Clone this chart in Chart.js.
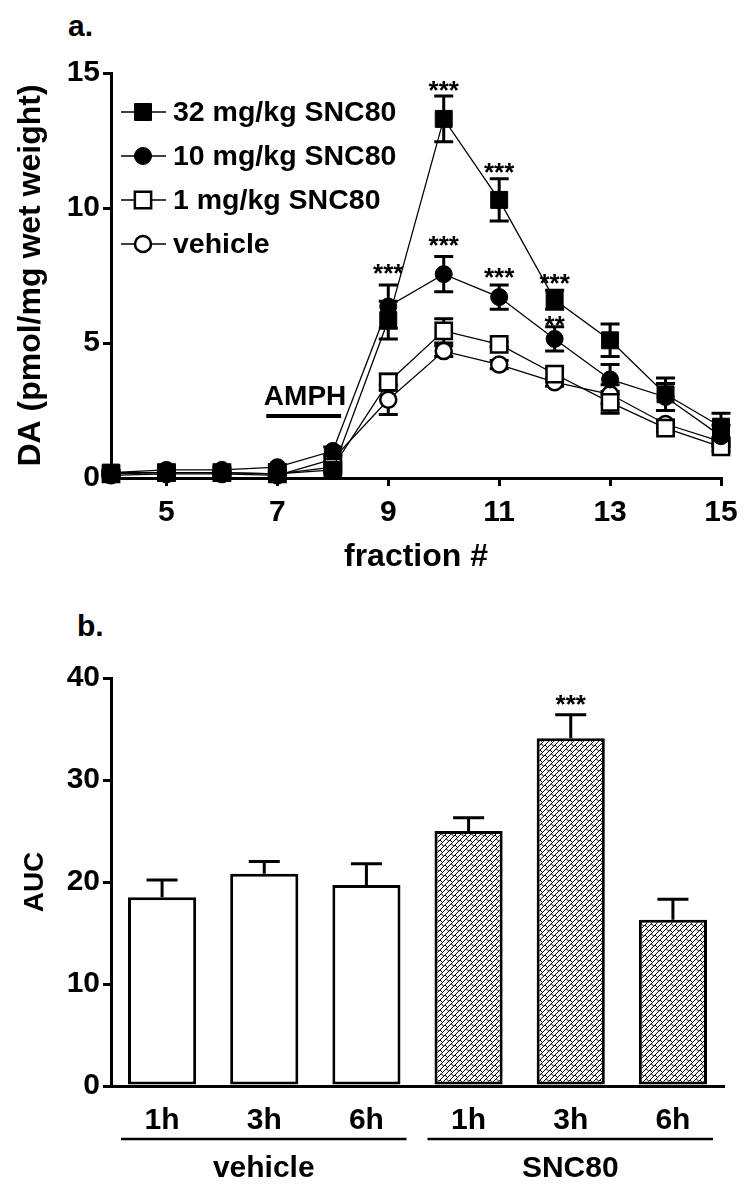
<!DOCTYPE html>
<html>
<head>
<meta charset="utf-8">
<script src="https://cdn.jsdelivr.net/npm/chart.js@4.4.0/dist/chart.umd.min.js"></script>
<style>
html, body { margin: 0; padding: 0; background: #fff; }
#wrap { position: relative; width: 750px; height: 1199px; font-family: "Liberation Sans", Arial, sans-serif; }
canvas { position: absolute; left: 0; }
#top { top: 0; }
#bottom { top: 590px; }
.panel { position: absolute; font-weight: bold; font-size: 30px; line-height: 30px; color: #000; }
</style>
</head>
<body>
<div id="wrap">
  <div class="panel" style="left:68px;top:11px;">a.</div>
  <div class="panel" style="left:77px;top:611px;">b.</div>
  <canvas id="top" width="750" height="590"></canvas>
  <canvas id="bottom" width="750" height="609"></canvas>
</div>
<script>
// panel a: DA per fraction
const fractions = [4, 5, 6, 7, 8, 9, 10, 11, 12, 13, 14, 15];
const dose32 = [0.2, 0.2, 0.2, 0.15, 0.3, 5.85, 13.3, 10.3, 6.6, 5.1, 3.1, 1.9];
const dose32Err = [0.1, 0.1, 0.1, 0.1, 0.1, 0.7, 0.85, 0.78, 0.35, 0.6, 0.6, 0.5];
const dose10 = [0.2, 0.3, 0.3, 0.4, 1.0, 6.35, 7.55, 6.7, 5.15, 3.65, 3.0, 1.55];
const dose10Err = [0.05, 0.1, 0.1, 0.1, 0.15, 0.8, 0.65, 0.45, 0.45, 0.55, 0.5, 0.4];
const dose1 = [0.15, 0.2, 0.2, 0.15, 0.4, 3.55, 5.45, 4.95, 3.85, 2.8, 1.85, 1.15];
const dose1Err = [0.05, 0.05, 0.05, 0.05, 0.1, 0.3, 0.45, 0.1, 0.2, 0.4, 0.15, 0.15];
const vehicle = [0.1, 0.15, 0.15, 0.1, 0.7, 2.9, 4.7, 4.2, 3.55, 3.1, 2.0, 1.35];
const vehicleErr = [0.05, 0.05, 0.05, 0.05, 0.1, 0.55, 0.2, 0.15, 0.15, 0.35, 0.15, 0.15];
const xTickValues = [5, 7, 9, 11, 13, 15];

const starX = [9, 10, 10, 11, 11, 12, 12];
const starY = [7.8, 14.6, 8.85, 11.55, 7.65, 7.45, 5.9];
const starText = ['***', '***', '***', '***', '***', '***', '**'];

// panel b: AUC
const timeLabels = ['1h', '3h', '6h', '1h', '3h', '6h'];
const auc = [18.5, 20.8, 19.7, 25.0, 34.1, 16.3];
const aucErr = [1.7, 1.2, 2.1, 1.3, 2.3, 2.0];
const groupNames = ['vehicle', 'SNC80'];
const groupStart = [0, 3];
const groupEnd = [2, 5];

const FONT = '"Liberation Sans", Arial, sans-serif';
Chart.defaults.font.family = FONT;
Chart.defaults.font.weight = 'bold';
Chart.defaults.color = '#000';

const toXY = (ys) => ys.map((y, i) => ({ x: fractions[i], y: y }));

function marker(ctx, style, r, x, y, bw) {
  if (Chart.helpers && Chart.helpers.drawPoint) {
    Chart.helpers.drawPoint(ctx, { pointStyle: style, radius: r, rotation: 0, borderWidth: bw }, x, y);
    return;
  }
  ctx.beginPath();
  if (style === 'rect') { const s = r * Math.SQRT1_2; ctx.rect(x - s, y - s, 2 * s, 2 * s); }
  else ctx.arc(x, y, r, 0, Math.PI * 2);
  ctx.fill(); if (bw) ctx.stroke();
}

const errBarsTop = {
  id: 'errBarsTop',
  beforeDatasetsDraw(chart) {
    const { ctx } = chart;
    const xs = chart.scales.x, ys = chart.scales.y;
    ctx.save();
    ctx.strokeStyle = '#000';
    ctx.lineWidth = 3;
    chart.data.datasets.forEach(ds => {
      ds.data.forEach((p, i) => {
        const e = ds.err[i];
        const x = xs.getPixelForValue(p.x);
        const y1 = ys.getPixelForValue(p.y + e);
        const y2 = ys.getPixelForValue(p.y - e);
        ctx.beginPath();
        ctx.moveTo(x, y1); ctx.lineTo(x, y2);
        ctx.moveTo(x - 9.5, y1); ctx.lineTo(x + 9.5, y1);
        ctx.moveTo(x - 9.5, y2); ctx.lineTo(x + 9.5, y2);
        ctx.stroke();
      });
    });
    ctx.restore();
  }
};

const notesTop = {
  id: 'notesTop',
  afterDatasetsDraw(chart) {
    const { ctx, chartArea } = chart;
    const xs = chart.scales.x, ys = chart.scales.y;
    ctx.save();
    // legend inside the plot
    const lx = chartArea.left + 10, ly = chartArea.top + 39, rowH = 44;
    chart.data.datasets.forEach((ds, i) => {
      const y = ly + i * rowH;
      ctx.strokeStyle = '#000';
      ctx.lineWidth = 1.3;
      ctx.beginPath(); ctx.moveTo(lx, y); ctx.lineTo(lx + 45, y); ctx.stroke();
      ctx.fillStyle = ds.pointBackgroundColor;
      ctx.lineWidth = ds.pointBorderWidth;
      marker(ctx, ds.pointStyle, ds.pointRadius, lx + 22, y, ds.pointBorderWidth);
      ctx.fillStyle = '#000';
      ctx.font = 'bold 28.5px ' + FONT;
      ctx.textAlign = 'left';
      ctx.textBaseline = 'middle';
      ctx.fillText(ds.label, lx + 52, y + 1);
    });
    // stars
    ctx.font = 'bold 26px ' + FONT;
    ctx.textAlign = 'center';
    ctx.textBaseline = 'alphabetic';
    starX.forEach((sx, i) => {
      ctx.fillText(starText[i], xs.getPixelForValue(sx), ys.getPixelForValue(starY[i]) + 15);
    });
    // AMPH bar
    ctx.font = 'bold 28px ' + FONT;
    ctx.textBaseline = 'middle';
    ctx.fillText('AMPH', xs.getPixelForValue(7.5), ys.getPixelForValue(3.0));
    ctx.lineWidth = 4;
    ctx.beginPath();
    ctx.moveTo(xs.getPixelForValue(6.8), ys.getPixelForValue(2.3));
    ctx.lineTo(xs.getPixelForValue(8.15), ys.getPixelForValue(2.3));
    ctx.stroke();
    ctx.restore();
  }
};

function series(label, ys, err, style, r, fill, bw) {
  return {
    label: label, data: toXY(ys), err: err,
    borderColor: '#000', borderWidth: 1.3, backgroundColor: fill,
    pointStyle: style, pointRadius: r, pointHoverRadius: r,
    pointBackgroundColor: fill, pointBorderColor: '#000', pointBorderWidth: bw,
    tension: 0, fill: false, clip: false
  };
}

new Chart(document.getElementById('top'), {
  type: 'line',
  data: {
    datasets: [
      series('32 mg/kg SNC80', dose32, dose32Err, 'rect', 12, '#000', 1),
      series('10 mg/kg SNC80', dose10, dose10Err, 'circle', 8.5, '#000', 1),
      series('1 mg/kg SNC80', dose1, dose1Err, 'rect', 11.5, '#fff', 2.5),
      series('vehicle', vehicle, vehicleErr, 'circle', 8, '#fff', 2.5)
    ]
  },
  options: {
    responsive: false,
    devicePixelRatio: 1,
    animation: false,
    layout: { padding: { left: 0, right: 29, top: 73, bottom: 0 } },
    plugins: { legend: { display: false }, tooltip: { enabled: false } },
    scales: {
      x: {
        type: 'linear', min: 4, max: 15,
        afterBuildTicks: (axis) => { axis.ticks = xTickValues.map(v => ({ value: v })); },
        afterFit: (s) => { s.height = 112; },
        grid: { display: true, drawOnChartArea: false, drawTicks: true, tickLength: 8, color: '#000', lineWidth: 3 },
        border: { display: true, color: '#000', width: 3 },
        ticks: { color: '#000', font: { size: 30, weight: 'bold' }, padding: 9, maxRotation: 0 },
        title: { display: true, text: 'fraction #', color: '#000', font: { size: 32, weight: 'bold' }, padding: { top: 0, bottom: 14 } }
      },
      y: {
        min: 0, max: 15,
        afterFit: (s) => { s.width = 111; },
        grid: { display: true, drawOnChartArea: false, drawTicks: true, tickLength: 8, color: '#000', lineWidth: 3 },
        border: { display: true, color: '#000', width: 3 },
        ticks: { stepSize: 5, color: '#000', font: { size: 30, weight: 'bold' }, padding: 3 },
        title: { display: true, text: 'DA (pmol/mg wet weight)', color: '#000', font: { size: 32, weight: 'bold' }, padding: { top: 12, bottom: 0 } }
      }
    }
  },
  plugins: [errBarsTop, notesTop]
});

function makeHatch() {
  const c = document.createElement('canvas');
  c.width = 10; c.height = 10;
  const g = c.getContext('2d');
  g.fillStyle = '#fff';
  g.fillRect(0, 0, 10, 10);
  g.strokeStyle = '#000';
  g.lineWidth = 1;
  g.beginPath();
  for (let k = -10; k <= 10; k += 5) { g.moveTo(k - 1, 11); g.lineTo(k + 11, -1); }
  for (let dx = -10; dx <= 10; dx += 10) {
    for (let dy = -10; dy <= 10; dy += 10) {
      [0, 5].forEach(p => { g.moveTo(p + dx, -p + dy); g.lineTo(p + 2.5 + dx, 2.5 - p + dy); });
      [1.25, 6.25].forEach(q => { g.moveTo(q + dx, 5 - q + dy); g.lineTo(q + 2.5 + dx, 7.5 - q + dy); });
    }
  }
  g.stroke();
  return g.createPattern(c, 'repeat');
}
const hatch = makeHatch();

const barDecor = {
  id: 'barDecor',
  afterDatasetsDraw(chart) {
    const { ctx, chartArea } = chart;
    const ys = chart.scales.y;
    const meta = chart.getDatasetMeta(0);
    ctx.save();
    ctx.strokeStyle = '#000';
    ctx.fillStyle = '#000';
    ctx.lineWidth = 3;
    meta.data.forEach((bar, i) => {
      const yTop = ys.getPixelForValue(auc[i] + aucErr[i]);
      ctx.beginPath();
      ctx.moveTo(bar.x, bar.y); ctx.lineTo(bar.x, yTop);
      ctx.moveTo(bar.x - 15.5, yTop); ctx.lineTo(bar.x + 15.5, yTop);
      ctx.stroke();
    });
    // significance above 3h SNC80
    ctx.font = 'bold 26px ' + FONT;
    ctx.textAlign = 'center';
    ctx.fillText('***', meta.data[4].x, ys.getPixelForValue(38) + 15);
    // group underlines and names
    ctx.lineWidth = 2.5;
    ctx.textBaseline = 'middle';
    ctx.font = 'bold 30px ' + FONT;
    groupNames.forEach((name, g) => {
      const a = meta.data[groupStart[g]], b = meta.data[groupEnd[g]];
      const x1 = a.x - a.width / 2 - 7, x2 = b.x + b.width / 2 + 6;
      const y = chartArea.bottom + 53;
      ctx.beginPath(); ctx.moveTo(x1, y); ctx.lineTo(x2, y); ctx.stroke();
      ctx.fillText(name, (x1 + x2) / 2, chartArea.bottom + 83);
    });
    ctx.restore();
  }
};

new Chart(document.getElementById('bottom'), {
  type: 'bar',
  data: {
    labels: timeLabels,
    datasets: [{
      data: auc,
      backgroundColor: ['#fff', '#fff', '#fff', hatch, hatch, hatch],
      borderColor: '#000',
      borderWidth: 3,
      borderSkipped: false,
      barPercentage: 0.667,
      categoryPercentage: 1
    }]
  },
  options: {
    responsive: false,
    devicePixelRatio: 1,
    animation: false,
    layout: { padding: { left: 0, right: 26, top: 88, bottom: 0 } },
    plugins: { legend: { display: false }, tooltip: { enabled: false } },
    scales: {
      x: {
        afterFit: (s) => { s.height = 113; },
        grid: { display: false, drawTicks: false },
        border: { display: true, color: '#000', width: 3 },
        ticks: { color: '#000', font: { size: 30, weight: 'bold' }, padding: 17 }
      },
      y: {
        min: 0, max: 40,
        afterFit: (s) => { s.width = 111; },
        grid: { display: true, drawOnChartArea: false, drawTicks: true, tickLength: 8, color: '#000', lineWidth: 3 },
        border: { display: true, color: '#000', width: 3 },
        ticks: { stepSize: 10, color: '#000', font: { size: 30, weight: 'bold' }, padding: 3 },
        title: { display: true, text: 'AUC', color: '#000', font: { size: 28, weight: 'bold' }, padding: { top: 18, bottom: 0 } }
      }
    }
  },
  plugins: [barDecor]
});
</script>
</body>
</html>
